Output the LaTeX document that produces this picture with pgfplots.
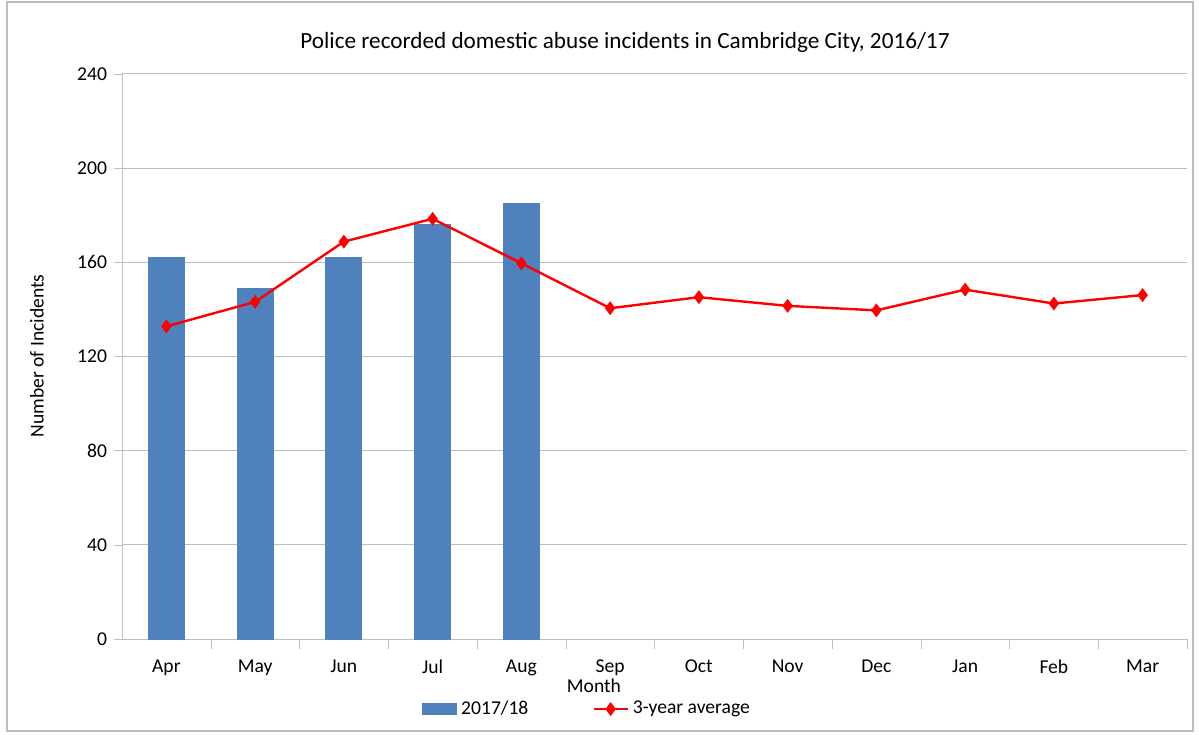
\documentclass[border=0pt]{standalone}
\usepackage{fontspec}
\setmainfont{Carlito}
\usepackage{pgfplots}
\pgfplotsset{compat=1.18}
\definecolor{barblue}{HTML}{4F81BD}
\definecolor{gridgray}{HTML}{BEBEBE}
\begin{document}
\begin{tikzpicture}[font=\fontsize{9.8}{11.5}\selectfont]
\useasboundingbox (-61pt,-47.5pt) rectangle (538.5pt,319.5pt);
\draw[gridgray, line width=0.6pt] (-57.5pt,-46pt) rectangle (535.5pt,318.5pt);
\begin{axis}[
  at={(0,0)}, anchor=south west,
  scale only axis, width=532.5pt, height=282.5pt,
  xmin=-0.5, xmax=11.5, ymin=0, ymax=240,
  axis x line*=bottom, axis y line*=left,
  axis line style={gridgray, -},
  xtick={0,...,11},
  xticklabels={Apr,May,Jun,Jul,Aug,Sep,Oct,Nov,Dec,Jan,Feb,Mar},
  major x tick style={draw=none},
  minor xtick={0.5,1.5,...,11.5},
  minor tick length=5pt,
  minor x tick style={gridgray},
  ytick={0,40,...,240},
  major tick length=4pt,
  tick align=outside,
  y tick style={gridgray},
  ymajorgrids, grid style={gridgray, line width=0.5pt},
  xticklabel style={yshift=-3pt},
  /pgf/number format/assume math mode=true,
  legend columns=2,
  legend style={draw=none, fill=none, at={(axis description cs:0.4376,-0.124)}, anchor=center,
    /tikz/every even column/.append style={column sep=30pt}, font=\fontsize{9.8}{11.5}\selectfont},
  legend cell align=left,
]
\addplot[ybar, bar width=18pt, fill=barblue, draw=barblue, area legend] coordinates {
(0,162) (1,149) (2,162) (3,176) (4,185)};
\addlegendentry{2017/18}
\addplot[red, line width=1.2pt, mark=diamond*, mark size=2.5pt, mark options={fill=red, draw=red}] coordinates {
(0,132.8) (1,143.2) (2,168.8) (3,178.5) (4,159.6) (5,140.5) (6,145.2) (7,141.5) (8,139.6) (9,148.4) (10,142.5) (11,146.1)};
\addlegendentry{3-year average}
\end{axis}
\node[font=\fontsize{11.6}{13}\selectfont] at (251.5pt,298.5pt) {Police recorded domestic abuse incidents in Cambridge City, 2016/17};
\node at (236pt,-23.5pt) {Month};
\node[rotate=90] at (-42.5pt,141.5pt) {Number of Incidents};
\end{tikzpicture}
\end{document}
